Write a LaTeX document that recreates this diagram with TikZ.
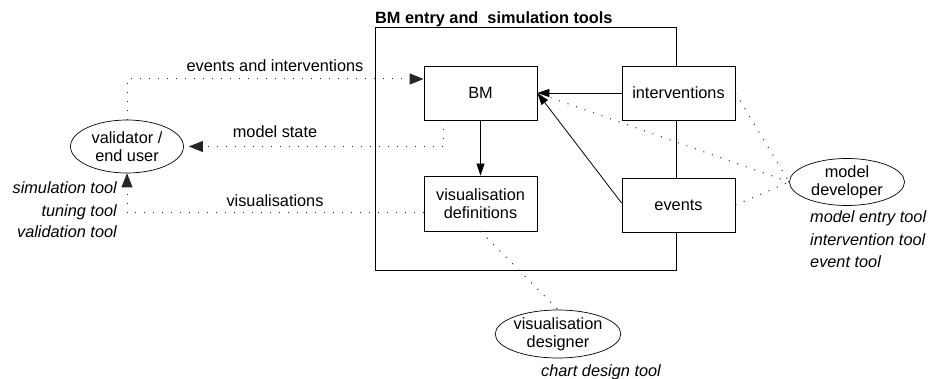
\documentclass[tikz,border=0pt]{standalone}
\usepackage{fontspec}
\setmainfont{Liberation Sans}
\usetikzlibrary{arrows.meta}
\usetikzlibrary{shapes.geometric}
\def\diagramfont{\fontsize{16.3}{18}\selectfont}
\tikzstyle{component}=[draw, fill=white, line width=0.8pt, minimum width=113pt, minimum height=54pt, align=center, inner sep=0pt]
\tikzstyle{actor}=[draw, ellipse, line width=0.7pt, minimum width=113pt, minimum height=53pt, align=center, inner sep=0pt]
\tikzstyle{toolnote}=[font=\diagramfont\itshape, inner sep=0pt]
\tikzstyle{usage}=[line width=1pt, dash pattern=on 1pt off 8pt, black!85]
\tikzstyle{usagearrow}=[usage, -{Triangle[length=14pt,width=11pt]}]
\tikzstyle{dataflow}=[line width=0.8pt, -{Triangle[length=12pt,width=8pt]}]
\begin{document}
\begin{tikzpicture}[x=1pt, y=-1pt, font=\diagramfont]
  \useasboundingbox (0,0) rectangle (928,379);
  % the tool set
  \node[draw, line width=1pt, minimum width=301pt, minimum height=242pt, inner sep=0pt] (toolset) at (525.5,149) {};
  \node[anchor=base west, font=\diagramfont\bfseries, inner sep=0pt] (title) at (375,23.5) {BM entry and\ \ simulation tools};
  \node[component] (BM) at (480.5,93) {BM};
  \node[component] (intv) at (678.5,93) {interventions};
  \node[component, minimum height=55pt] (visdef) at (480.5,203.5) {visualisation\\definitions};
  \node[component] (events) at (678.5,205) {events};
  % people around it
  \node[actor] (validator) at (127,146.5) {validator /\\end user};
  \node[actor, minimum width=115pt, minimum height=47pt] (modeldev) at (847,182) {model\\developer};
  \node[actor, minimum height=48pt] (designer) at (558,334) {visualisation\\designer};
  \node[toolnote, anchor=base east] (simtool) at (117,194) {simulation tool};
  \node[toolnote, anchor=base east] (tunetool) at (117,216.5) {tuning tool};
  \node[toolnote, anchor=base east] (valtool) at (117,238) {validation tool};
  \node[toolnote, anchor=base west] (entrytool) at (810,223) {model entry tool};
  \node[toolnote, anchor=base west] (intvtool) at (810,245) {intervention tool};
  \node[toolnote, anchor=base west] (eventtool) at (810,267) {event tool};
  \node[toolnote, anchor=base west] (charttool) at (541,376) {chart design tool};
  % flows inside
  \draw[dataflow] (BM) -- (visdef);
  \draw[dataflow] (intv) -- (BM);
  \draw[dataflow] ([yshift=2pt]events.west) -- (BM.east);
  % flows to and from users
  \draw[usagearrow] (validator.north) |- ([yshift=14pt]BM.west);
  \node[anchor=base, inner sep=0pt] (lblin) at (275,71.5) {events and interventions};
  \draw[usagearrow, shorten >=5pt] ([xshift=-37pt]BM.south) |- (validator.east);
  \node[anchor=base, inner sep=0pt] (lblstate) at (275,137.5) {model state};
  \draw[usagearrow] ([yshift=-9.5pt]visdef.west) -| (validator.south);
  \node[anchor=base, inner sep=0pt] (lblvis) at (275,206.5) {visualisations};
  \draw[usage] (modeldev.west) -- (BM.east);
  \draw[usage] (intv.east) -- (modeldev.west);
  \draw[usage] (events.east) -- (modeldev.west);
  \draw[usage] (visdef.south) -- (designer.north);
\end{tikzpicture}
\end{document}
